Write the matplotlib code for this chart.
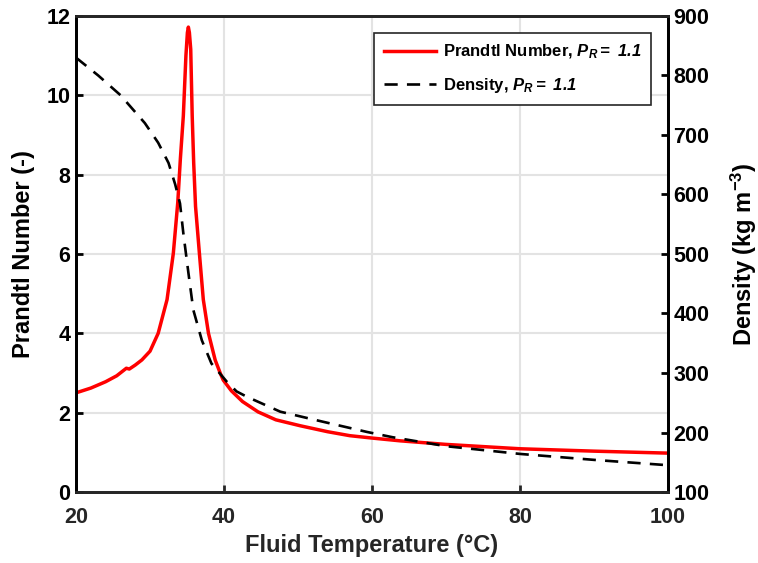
import numpy as np
import matplotlib
matplotlib.use("Agg")
import matplotlib.pyplot as plt

plt.rcParams['font.family'] = ['Liberation Sans', 'DejaVu Sans']
plt.rcParams['font.weight'] = 'bold'
plt.rcParams['mathtext.fontset'] = 'custom'
plt.rcParams['mathtext.it'] = 'Liberation Sans:italic:bold'
plt.rcParams['mathtext.rm'] = 'Liberation Sans:italic:bold'
plt.rcParams['mathtext.bf'] = 'Liberation Sans:bold'
plt.rcParams['mathtext.sf'] = 'Liberation Sans:bold'

# число Прандтля
t_pr = [20.0, 22.0, 24.0, 25.5, 26.8, 27.2, 28.0, 28.9, 30.0, 31.1, 32.3, 33.15, 33.75,
        34.1, 34.5, 34.85, 35.05, 35.18, 35.32, 35.5, 35.7, 35.9, 36.15, 36.67, 37.2,
        37.9, 38.8, 39.5, 39.9, 41.0, 42.5, 44.6, 47.0, 50.3, 54.0, 57.0, 60.0, 63.8,
        70.0, 80.0, 90.0, 100.0]
pr = [2.50, 2.62, 2.78, 2.93, 3.12, 3.10, 3.20, 3.33, 3.55, 4.00, 4.85, 6.02, 7.30,
      8.40, 9.48, 11.00, 11.58, 11.72, 11.58, 11.16, 9.48, 8.30, 7.20, 6.02, 4.85,
      4.00, 3.33, 2.99, 2.82, 2.55, 2.28, 2.02, 1.82, 1.67, 1.52, 1.42, 1.36, 1.29,
      1.20, 1.09, 1.03, 0.98]

# плотность
t_rho = [20.0, 23.0, 26.0, 29.3, 31.1, 32.5, 33.4, 34.05, 34.5, 35.2, 35.85,
         37.0, 38.3, 40.4, 41.7, 43.1, 47.6, 53.4, 59.3, 62.8, 70.0, 80.0, 90.0, 100.0]
rho = [830, 800, 767, 720, 687, 653, 617, 585, 535, 467, 406,
       355, 316, 285, 269, 260, 235, 218, 201, 192, 177, 164, 154, 145]

fig = plt.figure(figsize=(7.58, 5.63), dpi=100)
ax = fig.add_axes([0.1003, 0.1261, 0.781, 0.8455])
ax2 = ax.twinx()

ax.plot(t_pr, pr, color='#ff0000', lw=2.5, label=r'Prandtl Number, $P_R{=}\ 1.1$')
ax2.plot(t_rho, rho, color='black', lw=1.9, ls=(0, (5, 3.5)), label=r'Density, $P_R{=}\ 1.1$')

ax.set_xlim(20, 100)
ax.set_ylim(0, 12)
ax2.set_ylim(100, 900)
ax.set_xticks([20, 40, 60, 80, 100])
ax.set_yticks(np.arange(0, 13, 2))
ax2.set_yticks(np.arange(100, 901, 100))

ax.grid(True, color='#e3e3e3', lw=1.5)
ax.set_axisbelow(True)

for a in (ax, ax2):
    a.tick_params(direction='in', length=5, width=2, labelsize=15.5)
    for s in a.spines.values():
        s.set_linewidth(2)
for s in ('bottom', 'top'):
    ax.spines[s].set_color('#262626')
    ax2.spines[s].set_color('#262626')
ax.spines['left'].set_color('black')
ax2.spines['right'].set_color('black')
ax.tick_params(axis='x', colors='#262626', pad=11)
ax.tick_params(axis='y', colors='black', pad=4)
ax2.tick_params(axis='y', colors='black', pad=4)

ax.set_xlabel('Fluid Temperature (°C)', fontsize=17, fontweight='bold', color='#262626', labelpad=4)
ax.set_ylabel('Prandtl Number (-)', fontsize=17, fontweight='bold', color='black', labelpad=8)
ax2.set_ylabel(r'Density (kg m$^{\mathsf{-3}}$)', fontsize=17, fontweight='bold', color='black', labelpad=14)

h1, l1 = ax.get_legend_handles_labels()
h2, l2 = ax2.get_legend_handles_labels()
leg = ax2.legend(h1 + h2, l1 + l2, loc='upper right', fontsize=12, fancybox=False,
                 framealpha=1, edgecolor='#262626', borderaxespad=1.0, handlelength=3.1,
                 labelspacing=0.9, borderpad=0.6, handletextpad=0.4)
leg.get_frame().set_linewidth(1.2)
for txt in leg.get_texts():
    txt.set_fontweight('bold')

fig.savefig('out.png', dpi=100)
